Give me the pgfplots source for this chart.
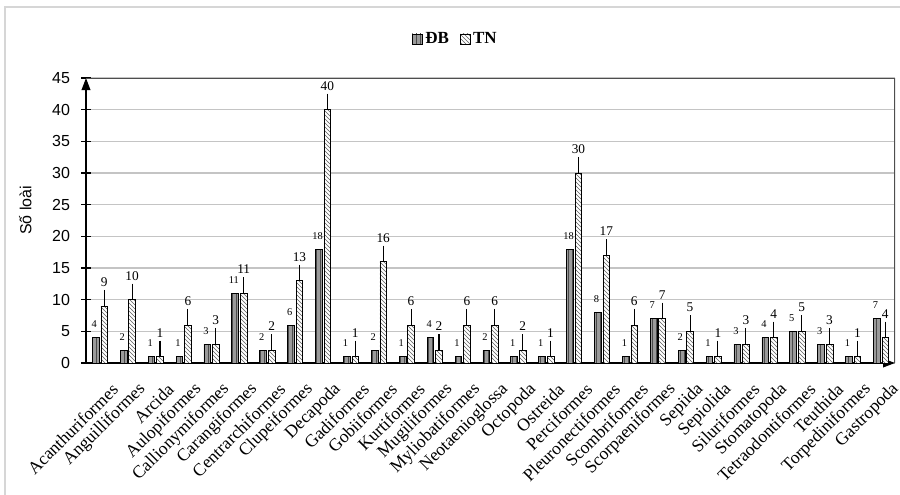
\documentclass[border=0pt]{standalone}
\usepackage{pgfplots}
\pgfplotsset{compat=1.18}
\usepackage{pgfplotstable}
\usetikzlibrary{patterns,arrows.meta}
\usepackage{fontspec}
\setmainfont{Liberation Serif}
\newfontfamily\sansf{Liberation Sans}

\definecolor{gridgray}{HTML}{C4C4C4}
\definecolor{dbfill}{HTML}{9A9A9A}
\definecolor{dbline}{HTML}{4A4A4A}
\definecolor{tnline}{HTML}{606060}
\definecolor{framegray}{HTML}{D6D6D6}
\definecolor{bordergray}{HTML}{4E4E4E}

% Number of species per order: DB and TN
\pgfplotstableread{
x name DB TN
0 Acanthuriformes 4 9
1 Anguilliformes 2 10
2 Arcida 1 1
3 Aulopiformes 1 6
4 Callionymiformes 3 3
5 Carangiformes 11 11
6 Centrarchiformes 2 2
7 Clupeiformes 6 13
8 Decapoda 18 40
9 Gadiformes 1 1
10 Gobiiformes 2 16
11 Kurtiformes 1 6
12 Mugiliformes 4 2
13 Myliobatiformes 1 6
14 Neotaenioglossa 2 6
15 Octopoda 1 2
16 Ostreida 1 1
17 Perciformes 18 30
18 Pleuronectiformes 8 17
19 Scombriformes 1 6
20 Scorpaeniformes 7 7
21 Sepiida 2 5
22 Sepiolida 1 1
23 Siluriformes 3 3
24 Stomatopoda 4 4
25 Tetraodontiformes 5 5
26 Teuthida 3 3
27 Torpediniformes 1 1
28 Gastropoda 7 4
}\orders

\begin{document}
\begin{tikzpicture}
\useasboundingbox (0,0) rectangle (675pt,370.5pt);
\clip (0,0) rectangle (675pt,370.5pt);
\draw[framegray, line width=1.5pt] (3.75pt,-10pt) -- (3.75pt,365.25pt) -- (690pt,365.25pt);
\begin{axis}[
  at={(64.5pt,98.25pt)}, anchor=south west,
  scale only axis, width=606.75pt, height=213.75pt,
  xmin=-0.5, xmax=28.5, ymin=0, ymax=45,
  axis x line*=bottom, axis y line*=left,
  axis line style={black, line width=1.1pt, -{Triangle[length=9pt,width=6.5pt]}},
  ytick={0,5,...,45},
  ymajorgrids, grid style={gridgray, line width=1.1pt},
  major tick length=7pt, tick align=center,
  ytick style={black, line width=1pt},
  xtick={0,...,28},
  xticklabels from table={\orders}{name},
  xtick style={draw=none},
  xticklabel style={rotate=45, anchor=east, inner sep=1pt,
    font=\fontsize{13.2}{15}\selectfont, xshift=-1pt, yshift=-18pt},
  yticklabel style={font=\sansf\fontsize{12}{14}\selectfont, xshift=-5pt},
  /pgf/number format/assume math mode=true,
  ylabel={Số loài},
  ylabel style={font=\sansf\fontsize{12}{14}\selectfont,
    at={(axis description cs:-0.075,0.535)}, anchor=center},
  legend style={at={(axis description cs:0.457,1.137)}, anchor=center,
    draw=none, fill=none, legend columns=-1,
    font=\bfseries\fontsize{12.75}{14}\selectfont,
    /tikz/every even column/.append style={column sep=6pt}},
  legend image code/.code={\draw[#1, line width=0.5pt] (0pt,-3.75pt) rectangle (7.5pt,3.75pt);},
]
% DB bars sit just left of each category, TN bars just right of it
\addplot[ybar, bar width=5pt, bar shift=0pt, draw=black, line width=0.5pt,
  fill=dbfill, postaction={pattern=vertical lines, pattern color=dbline},
  nodes near coords, nodes near coords align={anchor=base},
  every node near coord/.append style={black, anchor=base, inner sep=0pt,
    font=\fontsize{7.8}{9}\selectfont, xshift=-1pt, yshift=7.5pt}]
  table[x expr=\thisrow{x}-0.153, y=DB]{\orders};
\addplot[ybar, bar width=5pt, bar shift=0pt, draw=black, line width=0.5pt,
  fill=white, postaction={pattern=north west lines, pattern color=tnline},
  nodes near coords, nodes near coords align={anchor=base},
  every node near coord/.append style={black, anchor=base, inner sep=0pt,
    font=\fontsize{10}{12}\selectfont, yshift=14.6pt},
  error bars/.cd, y dir=plus, y fixed=2.53, error mark=none,
  error bar style={black, line width=0.8pt, solid}]
  table[x expr=\thisrow{x}+0.153, y=TN]{\orders};
\legend{ĐB, TN}
\draw[bordergray, line width=1.3pt] (rel axis cs:0,1) -- (rel axis cs:1,1) -- (rel axis cs:1,0);
\end{axis}
\end{tikzpicture}
\end{document}
